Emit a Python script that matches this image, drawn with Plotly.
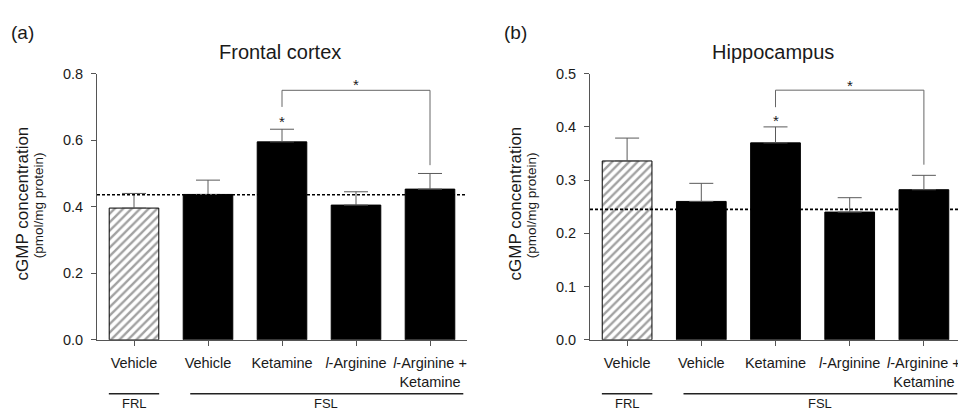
import plotly.graph_objects as go

categories = ["Vehicle", "Vehicle", "Ketamine", "<i>l</i>-Arginine", "<i>l</i>-Arginine +<br>Ketamine"]
frontal_means = [0.396, 0.437, 0.595, 0.405, 0.453]
frontal_sem = [0.044, 0.043, 0.038, 0.040, 0.047]
frontal_ref = 0.436
hippo_means = [0.336, 0.260, 0.370, 0.240, 0.282]
hippo_sem = [0.043, 0.034, 0.030, 0.027, 0.027]
hippo_ref = 0.245
frontal_bracket = [0.70, 0.75, 0.75, 0.525]
hippo_bracket = [0.437, 0.469, 0.469, 0.329]
frontal_stars = [0.656, 0.766]
hippo_stars = [0.412, 0.478]

FONT = "Liberation Sans, Arial, sans-serif"
TXT = "#1a1a1a"
AX = "#555555"
# the page has an 8px body margin: the figure spans 958x410 of the 966x418 window
W, H = 958, 410
OFF = 8


def fx(x):
    return (x - OFF) / W


def fy(y):
    return 1 - (y - OFF) / H


fig = go.Figure()

panels = [
    dict(means=frontal_means, sem=frontal_sem, ref=frontal_ref, br=frontal_bracket, stars=frontal_stars,
         xa="x", ya="y", ymax=0.8, dtick=0.2, dom=[fx(97), fx(467)], title="Frontal cortex", tag="(a)", dx=0),
    dict(means=hippo_means, sem=hippo_sem, ref=hippo_ref, br=hippo_bracket, stars=hippo_stars,
         xa="x2", ya="y2", ymax=0.5, dtick=0.1, dom=[fx(590), fx(961)], title="Hippocampus", tag="(b)", dx=493),
]

ydom = [fy(345), fy(68)]
xs = list(range(len(categories)))

for i, p in enumerate(panels):
    colors = ["white"] + ["black"] * 4
    shapes = ["/"] + [""] * 4
    fig.add_trace(go.Bar(
        x=xs, y=p["means"], xaxis=p["xa"], yaxis=p["ya"], width=0.67,
        marker=dict(color=colors, line=dict(color="black", width=1),
                    pattern=dict(shape=shapes, fgcolor="black", bgcolor="white", size=6, solidity=0.4)),
        error_y=dict(type="data", array=p["sem"], arrayminus=[0] * 5, symmetric=False,
                     color="#5a5a5a", thickness=1, width=12),
        showlegend=False, hoverinfo="skip",
    ))
    # significance bracket
    fig.add_trace(go.Scatter(
        x=[2, 2, 4, 4], y=p["br"], xaxis=p["xa"], yaxis=p["ya"], mode="lines",
        line=dict(color="#666666", width=1), showlegend=False, hoverinfo="skip",
    ))
    # dotted reference line
    fig.add_shape(type="line", xref=p["xa"], yref=p["ya"], x0=-0.5, x1=4.52, y0=p["ref"], y1=p["ref"],
                  line=dict(color="black", width=1.6, dash="3px,2px"))
    fig.add_annotation(x=2, y=p["stars"][0], xref=p["xa"], yref=p["ya"], text="*", showarrow=False,
                       yanchor="middle", font=dict(family=FONT, size=15, color=TXT))
    fig.add_annotation(x=3, y=p["stars"][1], xref=p["xa"], yref=p["ya"], text="*", showarrow=False,
                       yanchor="middle", font=dict(family=FONT, size=15, color=TXT))
    # group lines
    xref = p["xa"]
    fig.add_shape(type="line", xref=xref, yref="paper", x0=-0.34, x1=0.34, y0=fy(401), y1=fy(401),
                  line=dict(color="#222222", width=1.5))
    fig.add_shape(type="line", xref=xref, yref="paper", x0=0.76, x1=4.45, y0=fy(401), y1=fy(401),
                  line=dict(color="#222222", width=1.5))
    fig.add_annotation(x=0, y=fy(411), xref=xref, yref="paper", text="FRL", showarrow=False,
                       yanchor="middle", font=dict(family=FONT, size=13, color=TXT))
    fig.add_annotation(x=2.6, y=fy(411), xref=xref, yref="paper", text="FSL", showarrow=False,
                       yanchor="middle", font=dict(family=FONT, size=13, color=TXT))
    # titles and labels
    fig.add_annotation(x=fx(280 + p["dx"]), y=fy(45), xref="paper", yref="paper", text=p["title"],
                       showarrow=False, xanchor="center", yanchor="middle",
                       font=dict(family=FONT, size=20, color=TXT))
    fig.add_annotation(x=fx(22 + p["dx"]), y=fy(25), xref="paper", yref="paper", text=p["tag"],
                       showarrow=False, xanchor="center", yanchor="middle",
                       font=dict(family=FONT, size=19, color=TXT))
    fig.add_annotation(x=fx(22 + p["dx"]), y=fy(203), xref="paper", yref="paper",
                       text="cGMP concentration", textangle=-90, showarrow=False,
                       xanchor="center", yanchor="middle",
                       font=dict(family=FONT, size=17, color=TXT))
    fig.add_annotation(x=fx(38 + p["dx"]), y=fy(205), xref="paper", yref="paper",
                       text="(pmol/mg protein)", textangle=-90, showarrow=False,
                       xanchor="center", yanchor="middle",
                       font=dict(family=FONT, size=13.5, color=TXT))

    axsuffix = "" if i == 0 else "2"
    fig.update_layout(**{
        "xaxis" + axsuffix: dict(domain=p["dom"], range=[-0.5, 4.5], tickvals=xs, ticktext=categories,
                                 showline=True, linecolor=AX, linewidth=1, ticks="outside", ticklen=5,
                                 tickcolor=AX, showgrid=False, zeroline=False, anchor=p["ya"],
                                 ticklabelstandoff=5,
                                 tickfont=dict(family=FONT, size=14.5, color=TXT)),
        "yaxis" + axsuffix: dict(domain=ydom, range=[0, p["ymax"]], dtick=p["dtick"], tickformat=".1f",
                                 showline=True, linecolor=AX, linewidth=1, ticks="outside", ticklen=5,
                                 tickcolor=AX, showgrid=False, zeroline=False, anchor=p["xa"],
                                 ticklabelstandoff=5,
                                 tickfont=dict(family=FONT, size=14.5, color=TXT)),
    })

fig.update_layout(width=W, height=H, margin=dict(l=0, r=0, t=0, b=0),
                  plot_bgcolor="white", paper_bgcolor="white", bargap=0.3)
fig.write_html("out.html")
